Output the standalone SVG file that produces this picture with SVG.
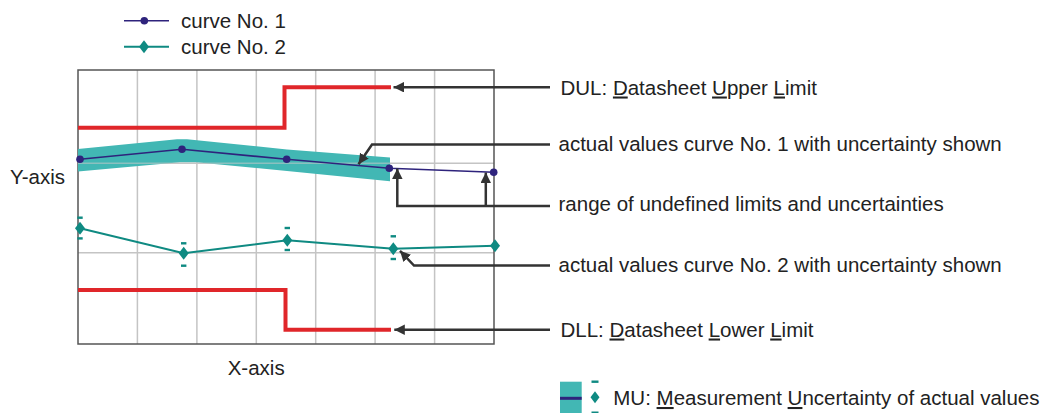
<svg xmlns="http://www.w3.org/2000/svg" width="1045" height="413" viewBox="0 0 1045 413">
<defs>
<style>
text{font-family:"Liberation Sans",Arial,sans-serif;font-size:20.5px;fill:#222}
.u{text-decoration:underline}
.grid{stroke:#c4c4c4;stroke-width:1.5;fill:none}
.frame{stroke:#555;stroke-width:1.5;fill:none}
.lim{stroke:#e0262a;stroke-width:4;fill:none;stroke-linejoin:miter}
.c1{stroke:#2e237c;stroke-width:1.6;fill:none}
.c2{stroke:#0f8a82;stroke-width:2;fill:none}
.dot{fill:#2e237c}
.dia{fill:#0f8a82}
.eb{fill:#0f8a82}
.band{fill:#42b7b4}
.conn{stroke:#333;stroke-width:2.5;fill:none;marker-end:url(#ah)}
</style>
<marker id="ah" viewBox="0 0 10 10" refX="10" refY="5" markerWidth="10.5" markerHeight="10.5" markerUnits="userSpaceOnUse" orient="auto">
<path d="M0,0 L10,5 L0,10 z" fill="#333"/>
</marker>
</defs>
<rect width="1045" height="413" fill="#fff"/>

<g id="legend">
<line x1="124" y1="20.7" x2="169" y2="20.7" class="c1"/>
<circle cx="144.3" cy="20.7" r="3.8" class="dot"/>
<text x="181" y="28.3">curve No. 1</text>
<line x1="124" y1="46.7" x2="169" y2="46.7" class="c2"/>
<path d="M144,40.2 L149,46.7 L144,53.2 L139,46.7 z" class="dia"/>
<text x="181" y="54">curve No. 2</text>
</g>

<g id="chart">
<g class="grid">
<line x1="137.4" y1="70" x2="137.4" y2="344"/>
<line x1="196.9" y1="70" x2="196.9" y2="344"/>
<line x1="256.3" y1="70" x2="256.3" y2="344"/>
<line x1="315.7" y1="70" x2="315.7" y2="344"/>
<line x1="375.1" y1="70" x2="375.1" y2="344"/>
<line x1="434.6" y1="70" x2="434.6" y2="344"/>
<line x1="78" y1="163.3" x2="494" y2="163.3"/>
<line x1="78" y1="252.7" x2="494" y2="252.7"/>
</g>
<rect x="78" y="70" width="416" height="274" class="frame"/>
</g>

<g id="DUL">
<path d="M78,127.7 H284.5 V87.2 H391" class="lim"/>
</g>
<g id="DLL">
<path d="M78,290 H285.5 V329.7 H391" class="lim"/>
</g>

<g id="curve1">
<path d="M78,149 L177,139.2 L187,139.2 L287,149.5 L390,157.5 L390,181.2 L287,171 L196,162.3 L180,162.3 L78,171.5 z" class="band"/>
<line x1="78" y1="163.3" x2="390" y2="163.3" stroke="#c8c8c8" stroke-opacity="0.55" stroke-width="1.5"/>
<polyline points="80,159.3 182,149.3 286.7,159.3 389.3,168.3 493.7,172.3" class="c1"/>
<circle cx="80" cy="159.3" r="3.8" class="dot"/>
<circle cx="182" cy="149.3" r="3.8" class="dot"/>
<circle cx="286.7" cy="159.3" r="3.8" class="dot"/>
<circle cx="389.3" cy="168.3" r="3.8" class="dot"/>
<circle cx="493.7" cy="172.3" r="3.8" class="dot"/>
</g>

<g id="curve2">
<polyline points="80,228.3 183.7,253.3 287.3,240.3 393.3,248.7 495,245.7" class="c2"/>
<path d="M80,221.8 L85,228.3 L80,234.8 L75,228.3 z" class="dia"/>
<path d="M183.7,246.8 L188.7,253.3 L183.7,259.8 L178.7,253.3 z" class="dia"/>
<path d="M287.3,233.8 L292.3,240.3 L287.3,246.8 L282.3,240.3 z" class="dia"/>
<path d="M393.3,242.2 L398.3,248.7 L393.3,255.2 L388.3,248.7 z" class="dia"/>
<path d="M495,239.2 L500,245.7 L495,252.2 L490,245.7 z" class="dia"/>
<rect x="77.3" y="216.5" width="5.4" height="2.4" class="eb"/>
<rect x="77.3" y="237.2" width="5.4" height="2.4" class="eb"/>
<rect x="181" y="242.1" width="5.4" height="2.4" class="eb"/>
<rect x="181" y="264.5" width="5.4" height="2.4" class="eb"/>
<rect x="284.6" y="226.8" width="5.4" height="2.4" class="eb"/>
<rect x="284.6" y="248.8" width="5.4" height="2.4" class="eb"/>
<rect x="390.6" y="235.1" width="5.4" height="2.4" class="eb"/>
<rect x="390.6" y="257.8" width="5.4" height="2.4" class="eb"/>
</g>

<g id="axis-labels">
<text x="10" y="184.3">Y-axis</text>
<text x="227.7" y="375">X-axis</text>
</g>

<g id="connectors">
<path d="M550,87.2 H393.5" class="conn"/>
<path d="M550,144.5 H372 L358.5,164.3" class="conn"/>
<path d="M550,206 H397.3 V168.5" class="conn"/>
<path d="M485.8,206 V172.5" class="conn"/>
<path d="M550,265.5 H414 L400,250.8" class="conn"/>
<path d="M550,329.7 H394.3" class="conn"/>
</g>

<g id="label-DUL"><text x="560.5" y="94.5">DUL: <tspan class="u">D</tspan>atasheet <tspan class="u">U</tspan>pper <tspan class="u">L</tspan>imit</text></g>
<g id="label-curve1"><text x="558.5" y="150.5">actual values curve No. 1 with uncertainty shown</text></g>
<g id="label-range"><text x="558.5" y="210.5">range of undefined limits and uncertainties</text></g>
<g id="label-curve2"><text x="558.5" y="272.3">actual values curve No. 2 with uncertainty shown</text></g>
<g id="label-DLL"><text x="560.5" y="336.5">DLL: <tspan class="u">D</tspan>atasheet <tspan class="u">L</tspan>ower <tspan class="u">L</tspan>imit</text></g>

<g id="legend-MU">
<rect x="560" y="381.7" width="21.7" height="32" class="band"/>
<line x1="560" y1="398.3" x2="581.7" y2="398.3" stroke="#2e237c" stroke-width="3"/>
<path d="M595,391.3 L599.5,397.3 L595,403.3 L590.5,397.3 z" class="dia"/>
<rect x="591.5" y="380.5" width="7" height="2.4" class="eb"/>
<rect x="591.5" y="411.5" width="7" height="2.4" class="eb"/>
<text x="613.3" y="405">MU: <tspan class="u">M</tspan>easurement <tspan class="u">U</tspan>ncertainty of actual values</text>
</g>
</svg>
